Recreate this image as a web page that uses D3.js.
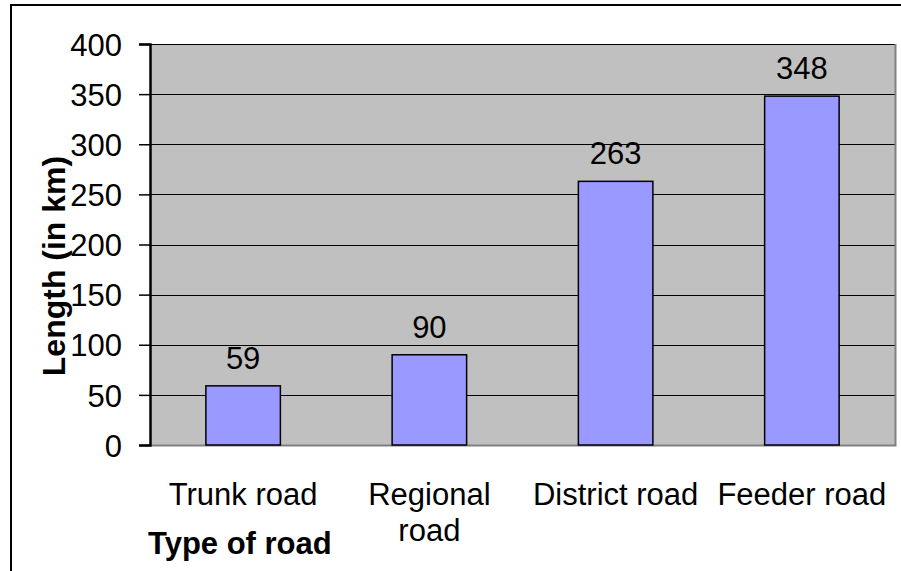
<!DOCTYPE html>
<html>
<head>
<meta charset="utf-8">
<script src="https://cdn.jsdelivr.net/npm/d3@7"></script>
<style>
  html, body { margin: 0; padding: 0; background: #fff; }
  svg { display: block; font-family: "Liberation Sans", Arial, sans-serif; }
</style>
</head>
<body>
<svg id="chart" width="901" height="571"></svg>
<script>
// Road network length by road type
const categories = ["Trunk road", "Regional road", "District road", "Feeder road"];
const categoryLines = [["Trunk road"], ["Regional", "road"], ["District road"], ["Feeder road"]];
const lengths = [59, 90, 263, 348];
const yTicks = [0, 50, 100, 150, 200, 250, 300, 350, 400];

const svg = d3.select("#chart");
const plot = { left: 150, top: 44, right: 895, bottom: 445 };
const fontSize = 31;

// outer chart frame
svg.append("rect")
  .attr("x", 11).attr("y", 5)
  .attr("width", 1000).attr("height", 1000)
  .attr("fill", "#fff").attr("stroke", "#000").attr("stroke-width", 2);

const x = d3.scaleBand().domain(categories).range([plot.left, plot.right]).padding(0);
const y = d3.scaleLinear().domain([0, 400]).range([plot.bottom, plot.top]);

// plot area background
svg.append("rect")
  .attr("x", plot.left).attr("y", plot.top)
  .attr("width", plot.right - plot.left).attr("height", plot.bottom - plot.top)
  .attr("fill", "#c0c0c0");

// horizontal gridlines
svg.append("g").selectAll("line")
  .data(yTicks.filter(d => d > 0))
  .join("line")
  .attr("x1", plot.left).attr("x2", plot.right)
  .attr("y1", d => Math.round(y(d)) + 0.5).attr("y2", d => Math.round(y(d)) + 0.5)
  .attr("stroke", "#000").attr("stroke-width", 1.2);

// gray border on right and bottom
svg.append("path")
  .attr("d", `M${plot.right + 0.5},${plot.top} V${plot.bottom + 0.5} H${plot.left}`)
  .attr("fill", "none").attr("stroke", "#808080").attr("stroke-width", 2);

// bars
const barW = x.bandwidth() * 0.4;
svg.append("g").selectAll("rect")
  .data(lengths)
  .join("rect")
  .attr("x", (d, i) => x(categories[i]) + (x.bandwidth() - barW) / 2)
  .attr("y", d => y(d))
  .attr("width", barW)
  .attr("height", d => y(0) - y(d))
  .attr("fill", "#9999ff")
  .attr("stroke", "#000").attr("stroke-width", 1.5);

// value labels
svg.append("g").selectAll("text")
  .data(lengths)
  .join("text")
  .attr("x", (d, i) => x(categories[i]) + x.bandwidth() / 2)
  .attr("y", d => y(d) - 17)
  .attr("text-anchor", "middle")
  .attr("font-size", fontSize)
  .attr("fill", "#000")
  .text(d => d);

// y axis
const yAxis = d3.axisLeft(y).tickValues(yTicks).tickSize(11).tickPadding(17);
const ga = svg.append("g").attr("transform", `translate(${plot.left},0)`).call(yAxis);
ga.select(".domain").attr("stroke", "#000").attr("stroke-width", 2.5);
ga.selectAll(".tick line").attr("stroke", "#000").attr("stroke-width", 1.5);
ga.selectAll(".tick text")
  .attr("font-size", fontSize).attr("font-family", "Liberation Sans, Arial, sans-serif")
  .attr("fill", "#000").attr("dy", "0.36em");

// category labels
const cat = svg.append("g").selectAll("text")
  .data(categories)
  .join("text")
  .attr("x", d => x(d) + x.bandwidth() / 2)
  .attr("y", 505)
  .attr("text-anchor", "middle")
  .attr("font-size", fontSize)
  .attr("fill", "#000");
cat.each(function(d, i) {
  d3.select(this).selectAll("tspan")
    .data(categoryLines[i])
    .join("tspan")
    .attr("x", x(d) + x.bandwidth() / 2)
    .attr("dy", (t, j) => j === 0 ? 0 : 36)
    .text(t => t);
});

// axis titles
svg.append("text")
  .attr("x", 148).attr("y", 554)
  .attr("font-size", fontSize).attr("font-weight", "bold")
  .attr("fill", "#000")
  .text("Type of road");

svg.append("text")
  .attr("transform", "translate(65,266) rotate(-90)")
  .attr("text-anchor", "middle")
  .attr("font-size", 32).attr("font-weight", "bold")
  .attr("fill", "#000")
  .text("Length (in km)");
</script>
</body>
</html>
